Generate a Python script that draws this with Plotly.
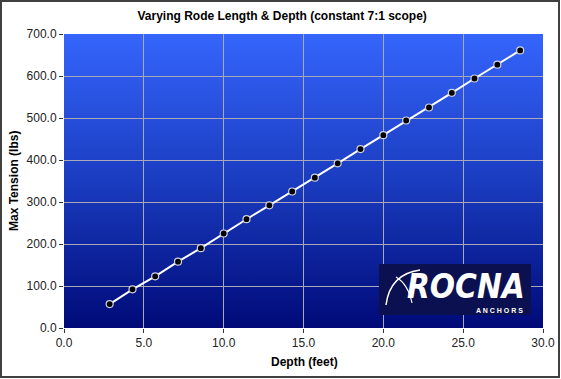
import plotly.graph_objects as go

depth_ft = [2.86, 4.29, 5.71, 7.14, 8.57, 10.0, 11.43, 12.86, 14.29, 15.71,
            17.14, 18.57, 20.0, 21.43, 22.86, 24.29, 25.71, 27.14, 28.57]
max_tension_lbs = [57, 92, 123, 158, 190, 225, 259, 292, 325, 358,
                   392, 426, 459, 494, 525, 560, 594, 627, 661]

title_text = "Varying Rode Length & Depth (constant 7:1 scope)"
x_title = "Depth (feet)"
y_title = "Max Tension (lbs)"

W, H = 561, 379
ML, MR, MT, MB = 64, 18, 34, 51
PW, PH = W - ML - MR, H - MT - MB

font_family = "Liberation Sans, Arial, sans-serif"

def px(x):
    return (x - ML) / PW
def py(y):
    return 1 - (y - MT) / PH

fig = go.Figure()
fig.add_trace(go.Scatter(
    x=depth_ft, y=max_tension_lbs, mode="lines+markers",
    line=dict(color="white", width=2),
    marker=dict(color="black", size=7, line=dict(color="#d0d0e0", width=1.2)),
    showlegend=False, hoverinfo="x+y",
))

grad_svg = (
    "data:image/svg+xml;utf8,"
    "<svg xmlns='http://www.w3.org/2000/svg' width='100' height='100' preserveAspectRatio='none'>"
    "<defs><linearGradient id='g' x1='0' y1='0' x2='0' y2='1'>"
    "<stop offset='0' stop-color='%233565fc'/>"
    "<stop offset='0.5' stop-color='%231a3cc0'/>"
    "<stop offset='1' stop-color='%23000a78'/>"
    "</linearGradient></defs>"
    "<rect width='100' height='100' fill='url(%23g)'/></svg>"
)

axis_common = dict(showgrid=True, gridcolor="#a8a8b8", gridwidth=1, zeroline=False,
                   ticks="outside", ticklen=4, tickcolor="#333", showline=False,
                   tickfont=dict(size=12, color="#222"), automargin=False,
                   tickformat=".1f")

fig.update_layout(
    width=W, height=H,
    margin=dict(l=ML, r=MR, t=MT, b=MB),
    paper_bgcolor="white",
    plot_bgcolor="#1a3cc0",
    font=dict(family=font_family, size=12, color="#222222"),
    title=dict(text="<b>" + title_text + "</b>", x=0.503, xanchor="center",
               y=1 - 16 / H, yanchor="middle", font=dict(size=12, color="black")),
    images=[dict(source=grad_svg, xref="paper", yref="paper", x=0, y=1,
                 sizex=1, sizey=1, xanchor="left", yanchor="top",
                 sizing="stretch", layer="below")],
    xaxis=dict(range=[0, 30], dtick=5, **axis_common),
    yaxis=dict(range=[0, 700], dtick=100, **axis_common),
)

# axis titles
fig.add_annotation(xref="paper", yref="paper", x=px(304), y=py(362),
                   text="<b>" + x_title + "</b>", showarrow=False,
                   font=dict(size=12, color="black"), xanchor="center", yanchor="middle")
fig.add_annotation(xref="paper", yref="paper", x=px(14), y=py(181),
                   text="<b>" + y_title + "</b>", showarrow=False, textangle=-90,
                   font=dict(size=12, color="black"), xanchor="center", yanchor="middle")

# outer chart border
fig.add_shape(type="rect", xref="paper", yref="paper",
              x0=px(1), x1=px(559), y0=py(377), y1=py(1),
              line=dict(color="#404040", width=2), fillcolor="rgba(0,0,0,0)")

# logo box
lx0, lx1, ly0, ly1 = 379, 531, 264, 315
fig.add_shape(type="rect", xref="paper", yref="paper",
              x0=px(lx0), x1=px(lx1), y0=py(ly1), y1=py(ly0),
              line=dict(width=0), fillcolor="#0b1150", layer="above")
# swoosh
fig.add_shape(type="path", xref="paper", yref="paper",
              path=f"M {px(386)},{py(305)} Q {px(390)},{py(274)} {px(420)},{py(270)}",
              line=dict(color="white", width=1.5), layer="above")
fig.add_shape(type="path", xref="paper", yref="paper",
              path=f"M {px(396)},{py(277)} Q {px(408)},{py(284)} {px(412)},{py(303)}",
              line=dict(color="white", width=1.2), layer="above")
fig.add_annotation(xref="paper", yref="paper", x=px(466), y=py(286),
                   text="<b><i>ROCNA</i></b>", showarrow=False,
                   font=dict(family="DejaVu Sans Condensed, Liberation Sans",
                             size=33, color="white"),
                   xanchor="center", yanchor="middle")
fig.add_annotation(xref="paper", yref="paper", x=px(499), y=py(310.5),
                   text="<b>A N C H O R S</b>", showarrow=False,
                   font=dict(family="Liberation Sans, Arial", size=7, color="white"),
                   xanchor="center", yanchor="middle")

fig.write_html("out.html", config={"displayModeBar": False},
               post_script="document.body.style.margin='0';")
